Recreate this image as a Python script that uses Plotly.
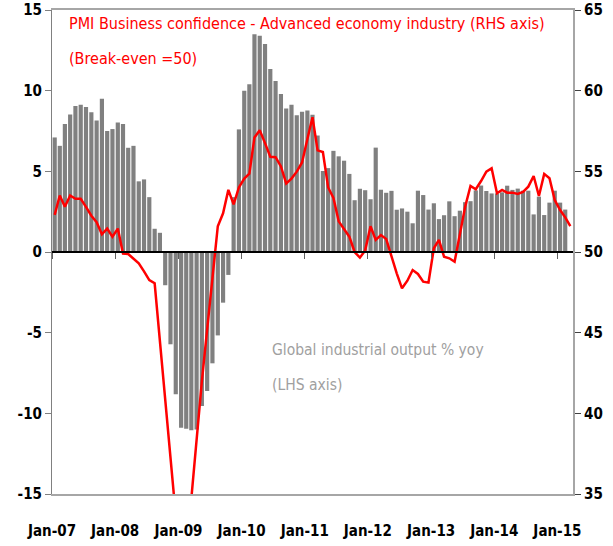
import pandas as pd
import plotly.graph_objects as go

# Monthly dates Jan-07 .. Mar-15
months = pd.date_range("2007-01-01", "2015-03-01", freq="MS")

# Global industrial output % yoy (LHS), Jan-07 .. Feb-15
output_yoy = [
    7.1, 6.58, 7.94, 8.52, 9.05, 9.12, 8.99, 8.66, 8.15, 9.5,
    7.5, 7.62, 8.02, 7.94, 6.46, 6.58, 4.38, 4.5, 3.4, 1.44,
    1.19, -2.06, -5.72, -8.81, -10.9, -10.95, -11.05, -11.0, -9.55, -8.62,
    -6.9, -5.17, -3.14, -1.42, 3.4, 7.6, 10.0, 10.4, 13.5, 13.4,
    12.9, 11.35, 10.6, 9.8, 8.9, 9.12, 8.47, 8.7, 8.77, 8.5,
    7.22, 5.02, 5.2, 6.27, 5.93, 5.66, 4.84, 3.21, 3.92, 3.83,
    3.27, 6.47, 3.86, 3.67, 3.79, 2.62, 2.7, 2.5, 1.78, 3.8,
    3.53, 2.63, 3.02, 2.04, 2.28, 3.14, 2.22, 2.56, 3.09, 3.15,
    3.82, 4.12, 3.78, 3.63, 3.63, 3.7, 4.11, 3.85, 3.93, 3.8,
    3.8, 2.33, 3.43, 2.29, 3.06, 3.8, 3.06, 2.63,
]

# PMI business confidence, advanced economy industry (RHS), Jan-07 .. Mar-15
pmi_conf = [
    52.3, 53.5, 52.8, 53.5, 53.3, 53.3, 52.8, 52.25, 51.85, 51.1,
    51.45, 50.95, 51.45, 49.9, 49.88, 49.6, 49.3, 48.8, 48.26, 48.06,
    44.3, 40.5, 36.7, 33.0, 30.0, 31.2, 34.8, 38.4, 42.0, 45.2,
    48.4, 51.6, 52.4, 53.85, 52.95, 54.0, 54.55, 54.85, 57.1, 57.55,
    56.75, 55.9, 55.88, 55.3, 54.25, 54.55, 54.98, 55.55, 57.0, 58.35,
    56.3, 56.2, 54.0, 53.35, 51.9, 51.45, 50.95, 50.0, 49.65, 50.1,
    51.6, 50.75, 51.05, 50.8, 49.67, 48.68, 47.75, 48.22, 48.88, 48.64,
    48.16, 48.1, 50.23, 50.75, 49.71, 49.61, 49.4, 51.16, 52.81, 54.09,
    53.89, 54.4, 54.98, 55.19, 53.64, 53.85, 53.68, 53.68, 53.6, 53.72,
    54.05, 54.71, 53.47, 54.84, 54.57, 53.22, 52.6, 52.15, 51.61,
]

left_ticks = [-15, -10, -5, 0, 5, 10, 15]
right_ticks = [35, 40, 45, 50, 55, 60, 65]

FONT = "DejaVu Sans Condensed, Liberation Sans, Arial, sans-serif"

fig = go.Figure()
fig.add_trace(go.Bar(
    x=months[:len(output_yoy)], y=output_yoy,
    xperiod="M1", xperiodalignment="middle",
    marker=dict(color="#808080", line=dict(width=0)),
    yaxis="y", xaxis="x", showlegend=False,
))
fig.add_trace(go.Scatter(
    x=months[:len(pmi_conf)], y=pmi_conf,
    xperiod="M1", xperiodalignment="middle",
    mode="lines", line=dict(color="#ff0000", width=2.5),
    yaxis="y2", xaxis="x", showlegend=False,
))
# helper trace so the zero-line axis is drawn
fig.add_trace(go.Scatter(x=[], y=[], xaxis="x2", yaxis="y", showlegend=False, hoverinfo="skip"))

xr = ["2007-01-01", "2015-04-01"]
tick_font = dict(family=FONT, size=15, color="black", weight="bold")
fig.update_layout(
    width=613, height=546,
    margin=dict(l=52, r=40, t=9.5, b=52, autoexpand=False),
    plot_bgcolor="white", paper_bgcolor="white",
    bargap=0.18,
    font=dict(family=FONT, size=16, color="black"),
    xaxis=dict(
        type="date", range=xr, tick0="2007-01-01", dtick="M12", tickformat="%b-%y",
        showline=True, linecolor="#a6a6a6", linewidth=1.5, mirror=True,
        ticks="", showgrid=False, zeroline=False, automargin=False,
        tickfont=tick_font, ticklabelstandoff=22, ticklabeloverflow="allow",
    ),
    xaxis2=dict(
        type="date", range=xr, matches="x", overlaying="x", anchor="free", position=0.5,
        tick0="2007-01-01", dtick="M12", showticklabels=False,
        showline=True, linecolor="black", linewidth=1.5,
        ticks="outside", ticklen=6, tickcolor="#606060", tickwidth=1,
        showgrid=False, zeroline=False, automargin=False,
    ),
    yaxis=dict(
        range=[-15, 15], tickvals=left_ticks, ticktext=[str(v) for v in left_ticks],
        showline=True, linecolor="#808080", linewidth=1,
        ticks="outside", ticklen=6, tickcolor="#808080",
        showgrid=False, zeroline=False, automargin=False,
        tickfont=tick_font, ticklabeloverflow="allow",
    ),
    yaxis2=dict(
        range=[35, 65], overlaying="y", side="right", anchor="x",
        tickvals=right_ticks, ticktext=[str(v) for v in right_ticks],
        showline=True, linecolor="#a6a6a6", linewidth=2,
        ticks="outside", ticklen=6, tickcolor="#404040",
        showgrid=False, zeroline=False, automargin=False,
        tickfont=tick_font, ticklabeloverflow="allow",
    ),
    annotations=[
        dict(text="PMI Business confidence - Advanced economy industry (RHS axis)",
             xref="paper", yref="paper", x=0.028, y=0.972, xanchor="left", yanchor="middle",
             showarrow=False, font=dict(family=FONT, size=16, color="#ff0000")),
        dict(text="(Break-even =50)",
             xref="paper", yref="paper", x=0.028, y=0.900, xanchor="left", yanchor="middle",
             showarrow=False, font=dict(family=FONT, size=16, color="#ff0000")),
        dict(text="Global industrial output % yoy",
             xref="paper", yref="paper", x=0.418, y=0.297, xanchor="left", yanchor="middle",
             showarrow=False, font=dict(family=FONT, size=15.5, color="#a0a0a0")),
        dict(text="(LHS axis)",
             xref="paper", yref="paper", x=0.418, y=0.225, xanchor="left", yanchor="middle",
             showarrow=False, font=dict(family=FONT, size=15.5, color="#a0a0a0")),
    ],
)

fig.write_html("out.html", config={"displayModeBar": False},
               post_script="document.body.style.margin='0';")
